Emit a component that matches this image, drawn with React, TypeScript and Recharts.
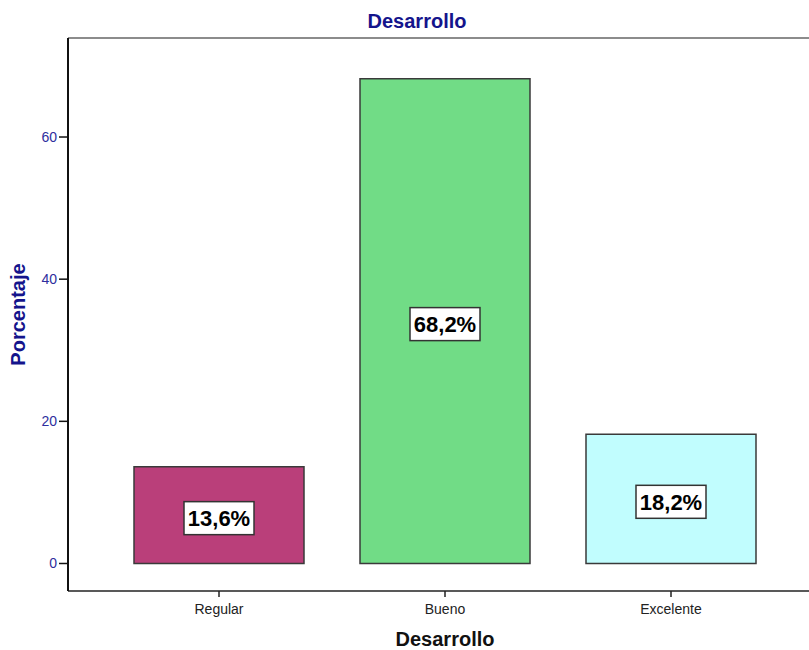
import React from "react";
import {
  BarChart,
  Bar,
  XAxis,
  YAxis,
  Cell,
  LabelList,
  ReferenceLine,
} from "recharts";

// valores
const categories = ["Regular", "Bueno", "Excelente"];
const percentages = [13.6, 68.2, 18.2];
const valueLabels = ["13,6%", "68,2%", "18,2%"];
const yTicks = [0, 20, 40, 60];

const barColors = ["#BA3F7A", "#71DC86", "#C1FDFE"];
const yMin = -3.87;
const yMax = 73.93;

const data = categories.map((name, i) => ({
  name,
  value: percentages[i],
  label: valueLabels[i],
}));

const FONT = "'Liberation Sans', Arial, sans-serif";

const BoxLabel = (props: any) => {
  const { x, y, width, height, value } = props;
  const cx = x + width / 2;
  const cy = y + height / 2 + 3;
  const w = 70;
  const h = 33;
  return (
    <g>
      <rect
        x={cx - w / 2}
        y={cy - h / 2}
        width={w}
        height={h}
        fill="#ffffff"
        stroke="#333333"
        strokeWidth={1.5}
      />
      <text
        x={cx}
        y={cy + 8}
        textAnchor="middle"
        fontFamily={FONT}
        fontWeight="bold"
        fontSize={22}
        fill="#000"
      >
        {value}
      </text>
    </g>
  );
};

const YTitle = (props: any) => {
  const vb = props.viewBox || {};
  const cx = 18;
  const cy = vb.y + vb.height / 2;
  return (
    <text
      x={cx}
      y={cy}
      transform={`rotate(-90 ${cx} ${cy})`}
      textAnchor="middle"
      dominantBaseline="central"
      fontFamily={FONT}
      fontWeight="bold"
      fontSize={20}
      fill="#14148C"
    >
      Porcentaje
    </text>
  );
};

const XTitle = (props: any) => {
  const vb = props.viewBox || {};
  return (
    <text
      x={vb.x + vb.width / 2}
      y={vb.y + vb.height - 4}
      textAnchor="middle"
      fontFamily={FONT}
      fontWeight="bold"
      fontSize={20}
      fill="#111"
    >
      Desarrollo
    </text>
  );
};

export default function App() {
  return (
    <div
      style={{
        position: "fixed",
        left: 0,
        top: 0,
        width: 809,
        height: 650,
        overflow: "hidden",
        background: "#fff",
        fontFamily: FONT,
      }}
    >
      <div
        style={{
          position: "absolute",
          left: 0,
          top: 11,
          width: 834,
          textAlign: "center",
          fontSize: 20,
          lineHeight: 1,
          fontWeight: "bold",
          color: "#14148C",
          zIndex: 2,
        }}
      >
        Desarrollo
      </div>
      <BarChart
        width={830}
        height={650}
        data={data}
        margin={{ top: 38, right: 8, left: 0, bottom: 0 }}
        barSize={170}
      >
        <ReferenceLine y={yMax} stroke="#8c8c8c" strokeWidth={2} ifOverflow="extendDomain" />
        <XAxis
          dataKey="name"
          height={59}
          padding={{ left: 38, right: 38 }}
          axisLine={{ stroke: "#222", strokeWidth: 1.5 }}
          tickLine={{ stroke: "#222", strokeWidth: 1.5 }}
          tickSize={6}
          tickMargin={7}
          tick={{ fontSize: 14, fill: "#222", fontFamily: FONT }}
          label={<XTitle />}
        />
        <YAxis
          width={68}
          domain={[yMin, yMax]}
          ticks={yTicks}
          allowDataOverflow
          axisLine={{ stroke: "#111", strokeWidth: 2 }}
          tickLine={{ stroke: "#111", strokeWidth: 1.5 }}
          tickSize={9}
          tick={{ fontSize: 14, fill: "#2E2E9E", fontFamily: FONT }}
          label={<YTitle />}
        />
        <Bar dataKey="value" isAnimationActive={false} stroke="#3a3a3a" strokeWidth={1.5}>
          {data.map((d, i) => (
            <Cell key={d.name} fill={barColors[i]} />
          ))}
          <LabelList dataKey="label" content={<BoxLabel />} />
        </Bar>
      </BarChart>
    </div>
  );
}
